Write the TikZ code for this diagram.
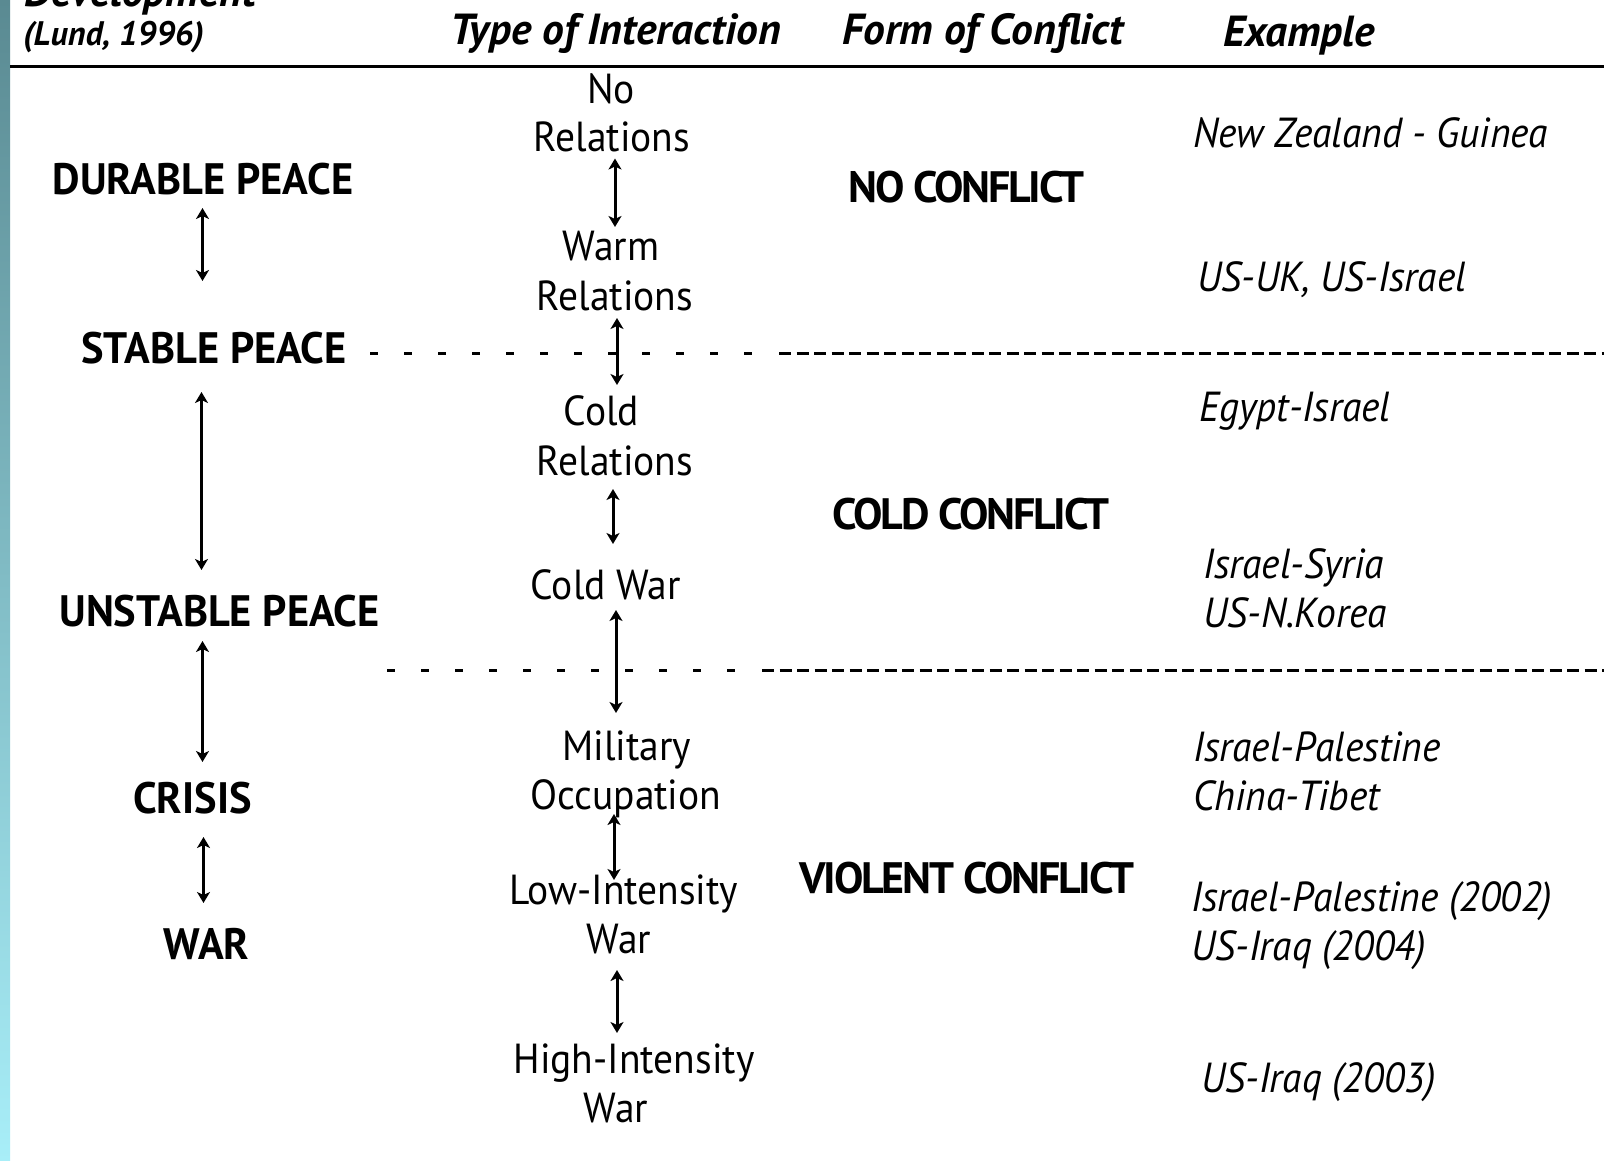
\documentclass[tikz,border=0pt]{standalone}
\usepackage{fontspec}
\setmainfont{PT Sans}
\usetikzlibrary{arrows.meta}
\definecolor{stripTop}{HTML}{5A8A92}
\definecolor{stripBot}{HTML}{A8EEF8}
\newfontfamily\heavyfam[LetterSpace=-5]{PT Sans}
\newfontfamily\narrowfam[FakeStretch=0.94]{PT Sans}
\newfontfamily\leftfam[FakeStretch=0.965]{PT Sans}
\newcommand{\fLeft}{\leftfam\fontsize{44}{48}\selectfont\bfseries}
\newcommand{\fMid}{\narrowfam\fontsize{42}{48}\selectfont}
\newcommand{\fEx}{\narrowfam\fontsize{42}{48}\selectfont\itshape}
\newcommand{\fHd}{\fontsize{43.5}{48}\selectfont\bfseries\itshape}
\newcommand{\fSub}{\fontsize{34}{40}\selectfont\bfseries\itshape}
\newcommand{\fConf}{\heavyfam\fontsize{44}{48}\selectfont\bfseries}
\begin{document}
\begin{tikzpicture}[x=1pt,y=-1pt,
  lab/.style={inner sep=0,anchor=base,font=\fLeft},
  mid/.style={inner sep=0,anchor=base,font=\fMid},
  conf/.style={inner sep=0,anchor=base,font=\fConf},
  ex/.style={inner sep=0,anchor=base west,font=\fEx},
  hd/.style={inner sep=0,anchor=base west,font=\fHd},
  dbl/.style={line width=3pt,{Stealth[length=11pt,width=13pt,inset=3pt]}-{Stealth[length=11pt,width=13pt,inset=3pt]}},
  sparse/.style={line width=3pt,dash pattern=on 8pt off 26pt},
  dense/.style={line width=3pt,dash pattern=on 12pt off 5.5pt}]
\useasboundingbox (0,0) rectangle (1604,1161);
\fill[white] (0,0) rectangle (1604,1161);
\shade[top color=stripTop,bottom color=stripBot] (0,0) rectangle (10,1161);
% header
\node[hd] (hdev) at (24,7) {Development};
\node[inner sep=0,anchor=base west,font=\fSub] (hlund) at (23,46) {(Lund, 1996)};
\node[hd] (htype) at (450,45) {Type of Interaction};
\node[hd] (hform) at (842,45) {Form of Conflict};
\node[hd] (hex) at (1223,47) {Example};
\draw[line width=3pt] (10,67) -- (1604,67);
% left column
\node[lab] (dp) at (203,194.5) {DURABLE PEACE};
\node[lab] (sp) at (214,363.5) {STABLE PEACE};
\node[lab] (up) at (219.5,626.5) {UNSTABLE PEACE};
\node[lab] (cr) at (192.5,813.5) {CRISIS};
\node[lab] (wa) at (206.5,959.5) {WAR};
\coordinate (l1a) at (202.5,208); \coordinate (l1b) at (202.5,281);
\coordinate (l2a) at (201.5,392); \coordinate (l2b) at (201.5,570);
\coordinate (l3a) at (202.5,641); \coordinate (l3b) at (202.5,762);
\coordinate (l4a) at (203.5,837); \coordinate (l4b) at (203.5,903);
\draw[dbl] (l1a) -- (l1b);
\draw[dbl] (l2a) -- (l2b);
\draw[dbl] (l3a) -- (l3b);
\draw[dbl] (l4a) -- (l4b);
% middle column
\node[mid] (no1) at (611,103.5) {No};
\node[mid] (no2) at (612,151.5) {Relations};
\node[mid] (wr1) at (611,261) {Warm};
\node[mid] (wr2) at (615,310.5) {Relations};
\node[mid] (cr1) at (601.5,425.5) {Cold};
\node[mid] (cr2) at (615,475.5) {Relations};
\node[mid] (cw) at (605.6,599.5) {Cold War};
\node[mid] (mo1) at (627,760.5) {Military};
\node[mid] (mo2) at (626,809.5) {Occupation};
\node[mid] (li1) at (624,904.5) {Low-Intensity};
\node[mid] (li2) at (619,953.5) {War};
\node[mid] (hi1) at (634,1073.5) {High-Intensity};
\node[mid] (hi2) at (616,1122.5) {War};
\coordinate (m1a) at (615,158.5); \coordinate (m1b) at (615,227);
\coordinate (m2a) at (617,318); \coordinate (m2b) at (617,385);
\coordinate (m3a) at (613,489); \coordinate (m3b) at (613,544);
\coordinate (m4a) at (616,610); \coordinate (m4b) at (616,713);
\coordinate (m5a) at (614,814); \coordinate (m5b) at (614,880);
\coordinate (m6a) at (617,970); \coordinate (m6b) at (617,1033);
\draw[dbl] (m1a) -- (m1b);
\draw[dbl] (m2a) -- (m2b);
\draw[dbl] (m3a) -- (m3b);
\draw[dbl] (m4a) -- (m4b);
\draw[dbl] (m5a) -- (m5b);
\draw[dbl] (m6a) -- (m6b);
% dashed separators
\coordinate (d1a) at (370,353); \coordinate (d1b) at (760,353);
\coordinate (d1c) at (779,353); \coordinate (d1d) at (1604,353);
\coordinate (d2a) at (387,670); \coordinate (d2b) at (742,670);
\coordinate (d2c) at (762,670); \coordinate (d2d) at (1604,670);
\draw[sparse] (d1a) -- (d1b);
\draw[dense] (d1c) -- (d1d);
\draw[sparse] (d2a) -- (d2b);
\draw[dense] (d2c) -- (d2d);
% form of conflict
\node[conf] (nc) at (966.5,202.5) {NO CONFLICT};
\node[conf] (cc) at (971,529) {COLD CONFLICT};
\node[conf] (vc) at (967,893.5) {VIOLENT CONFLICT};
% examples
\node[ex] (e1) at (1193,148) {New Zealand - Guinea};
\node[ex] (e2) at (1197,291) {US-UK, US-Israel};
\node[ex] (e3) at (1199,421) {Egypt-Israel};
\node[ex] (e4) at (1203,578) {Israel-Syria};
\node[ex] (e5) at (1203,627) {US-N.Korea};
\node[ex] (e6) at (1193,761) {Israel-Palestine};
\node[ex] (e7) at (1193,810) {China-Tibet};
\node[ex] (e8) at (1191,911) {Israel-Palestine (2002)};
\node[ex] (e9) at (1191,960) {US-Iraq (2004)};
\node[ex] (e10) at (1201,1092) {US-Iraq (2003)};
\end{tikzpicture}
\end{document}
